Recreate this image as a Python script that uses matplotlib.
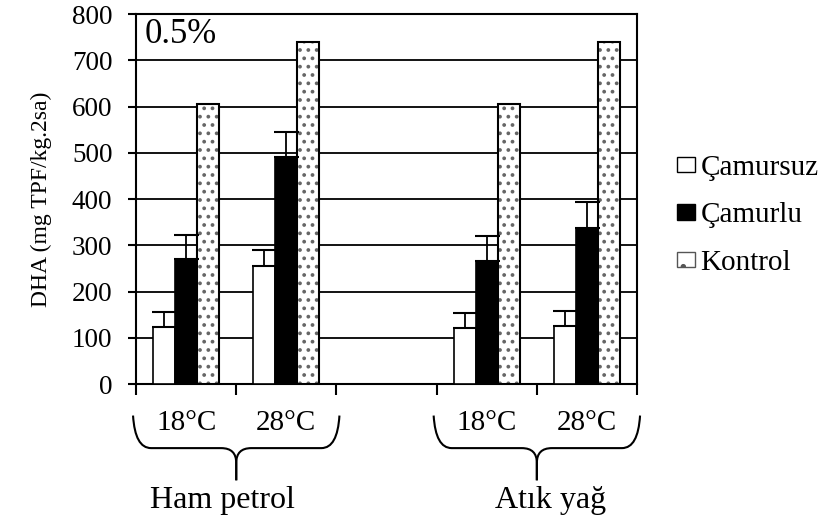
import numpy as np
import matplotlib.pyplot as plt
from matplotlib.path import Path
from matplotlib.patches import PathPatch, Patch
import matplotlib.transforms as mtransforms

plt.rcParams['font.family'] = ['Liberation Serif', 'DejaVu Serif']
plt.rcParams['hatch.linewidth'] = 1.5

# data (mg TPF/kg.2sa)
temps = ['18°C', '28°C', '', '18°C', '28°C']
groups = ['Ham petrol', 'Atık yağ']
series = ['Çamursuz', 'Çamurlu', 'Kontrol']
camursuz = [123, 255, np.nan, 121, 125]
camursuz_err = [33, 35, 0, 33, 33]
camurlu = [270, 491, np.nan, 266, 338]
camurlu_err = [52, 54, 0, 54, 55]
kontrol = [605, 740, np.nan, 605, 740]

fig = plt.figure(figsize=(8.22, 5.32), dpi=100)
ax = fig.add_axes([0.1655, 0.278, 0.6095, 0.6955])

x = np.arange(len(temps))
w = 0.22

ax.bar(x - w, camursuz, w, color='white', edgecolor='black', linewidth=1.2, zorder=3)
ax.errorbar(x - w, camursuz, yerr=[np.zeros(5), camursuz_err], fmt='none',
            ecolor='black', elinewidth=1.3, capsize=9, capthick=1.5, zorder=4)
ax.bar(x, camurlu, w, color='black', edgecolor='black', linewidth=1.2, zorder=3)
ax.errorbar(x, camurlu, yerr=[np.zeros(5), camurlu_err], fmt='none',
            ecolor='black', elinewidth=1.3, capsize=9, capthick=1.5, zorder=4)
# dotted bars: grey dots, then a black outline on top
ax.bar(x + w, kontrol, w, color='white', edgecolor='#666666', linewidth=0,
       hatch='..', zorder=3)
ax.bar(x + w, kontrol, w, fill=False, edgecolor='black', linewidth=1.5, zorder=3)

ax.set_xlim(-0.5, len(temps) - 0.5)
ax.set_ylim(0, 800)
ax.set_yticks(np.arange(0, 801, 100))
ax.yaxis.grid(True, color='black', linewidth=1.3)
ax.set_axisbelow(True)
for s in ax.spines.values():
    s.set_linewidth(1.5)

ax.set_xticks(np.arange(len(temps) + 1) - 0.5)
ax.set_xticklabels([])
ax.tick_params(axis='x', which='major', length=8, width=1.5, direction='out')
ax.set_xticks(x, minor=True)
ax.set_xticklabels(temps, minor=True, fontsize=21)
ax.tick_params(axis='x', which='minor', length=0, pad=19)
ax.tick_params(axis='y', length=6, width=1.5, labelsize=19.5, pad=11)

ax.set_ylabel('DHA (mg TPF/kg.2sa)', fontsize=17, labelpad=14)
ax.text(0.018, 0.99, '0.5%', transform=ax.transAxes, fontsize=25,
        va='top', ha='left')

# curly braces under each group
trans = mtransforms.blended_transform_factory(ax.transData, ax.transAxes)
for gx0, gx1 in [(-0.53, 1.53), (2.47, 4.53)]:
    xm = (gx0 + gx1) / 2
    yt, yh, yb = -0.085, -0.173, -0.26
    for xe, sgn in [(gx0, 1), (gx1, -1)]:
        verts = [(xe, yt), (xe + sgn * 0.02, yh), (xe + sgn * 0.18, yh),
                 (xm - sgn * 0.15, yh), (xm, yh), (xm, yh - 0.04), (xm, yb)]
        codes = [Path.MOVETO, Path.CURVE3, Path.CURVE3, Path.LINETO,
                 Path.CURVE3, Path.CURVE3, Path.LINETO]
        ax.add_patch(PathPatch(Path(verts, codes), fill=False, lw=1.5,
                               edgecolor='black', transform=trans, clip_on=False))

for gx, name in zip([0.36, 3.64], groups):
    ax.text(gx, -0.315, name, transform=trans, fontsize=23,
            ha='center', va='center')

handles = [Patch(facecolor='white', edgecolor='black'),
           Patch(facecolor='black', edgecolor='black'),
           Patch(facecolor='white', edgecolor='#555555', hatch='.')]
fig.legend(handles, series, loc='center left', bbox_to_anchor=(0.823, 0.595),
           frameon=False, fontsize=21, handlelength=0.62, handleheight=0.42,
           handletextpad=0.2, labelspacing=0.75, borderpad=0, borderaxespad=0)

fig.savefig('out.png', dpi=100)
